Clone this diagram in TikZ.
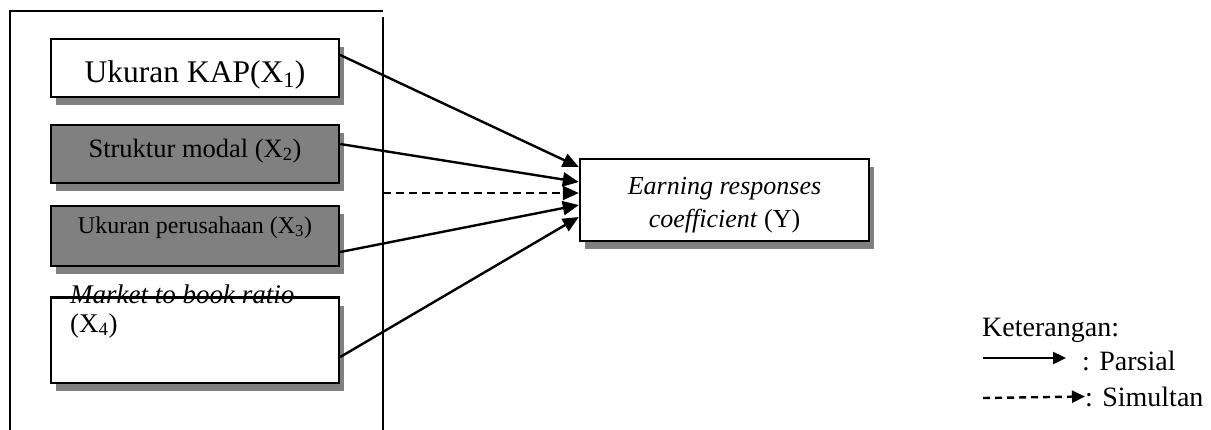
\documentclass[tikz,border=0pt]{standalone}
\usepackage{fontspec}
\setmainfont{Liberation Serif}
\usetikzlibrary{arrows.meta,shadows}
\definecolor{shgray}{RGB}{128,128,128}
\definecolor{boxgray}{RGB}{128,128,128}
\begin{document}
\begin{tikzpicture}[x=1pt,y=-1pt,
  box/.style={draw=black,line width=2.4pt,minimum width=288pt,inner sep=0pt,fill=white,
    drop shadow={shadow xshift=5pt,shadow yshift=-7.5pt,fill=shgray,opacity=1}},
  darkbox/.style={box,fill=boxgray},
  frameline/.style={line width=1.6pt},
  arr/.style={line width=2.4pt,-{Triangle[length=16pt,width=14pt]}},
  darr/.style={arr,dash pattern=on 8pt off 5pt},
  legarr/.style={line width=2.4pt,-{Triangle[length=13pt,width=12pt]}},
  legdarr/.style={legarr,dash pattern=on 7pt off 5pt},
  txt/.style={inner sep=0pt}
]
\useasboundingbox (0,0) rectangle (1211,429);
% frame
\coordinate (ftl) at (10,10.7);
\coordinate (ftr) at (383,10.7);
\coordinate (fbl) at (10,432);
\coordinate (frt) at (383,17);
\coordinate (frb) at (383,432);
\draw[frameline] (fbl) -- (ftl) -- (ftr);
\draw[frameline] (frt) -- (frb);
% boxes
\node[box,minimum height=58pt,text height=34pt,text depth=6pt,
      font=\fontsize{31.5}{36}\selectfont] (b1) at (195,68) {Ukuran KAP(X\textsubscript{1})};
\node[darkbox,minimum height=58pt,text height=18pt,text depth=12pt,
      font=\fontsize{26.5}{30}\selectfont] (b2) at (195,154) {Struktur modal (X\textsubscript{2})};
\node[darkbox,minimum height=60pt,text height=17pt,text depth=23pt,
      font=\fontsize{24}{28}\selectfont] (b3) at (195,236) {Ukuran perusahaan (X\textsubscript{3})};
\node[box,minimum height=85pt] (b4) at (195,340.5) {};
\node[txt,anchor=base west,font=\fontsize{27}{30}\selectfont\itshape] (b4t) at (70,303) {Market to book ratio};
\node[txt,anchor=base west,font=\fontsize{27}{30}\selectfont] (b4x) at (70,332) {(X\textsubscript{4})};
\draw[line width=2.4pt] (b4.north west) -- (b4.north east);
% dependent
\node[box,minimum width=289pt,minimum height=82pt,align=center,text height=60pt,text depth=6pt,
      font=\fontsize{26}{33}\selectfont] (y) at (724.5,200)
  {\textit{Earning responses}\\\textit{coefficient} (Y)};
% arrows
\coordinate (ds) at (383,193);
\draw[arr] ([yshift=13pt]b1.east) -- ([yshift=33pt]y.west);
\draw[arr] ([yshift=10pt]b2.east) -- ([yshift=18pt]y.west);
\draw[darr] (ds) -- ([yshift=7pt]y.west);
\draw[arr] ([yshift=-16pt]b3.east) -- ([yshift=-5pt]y.west);
\draw[arr] ([yshift=-16.5pt]b4.east) -- ([yshift=-17pt]y.west);
% legend
\node[txt,anchor=base west,font=\fontsize{28}{32}\selectfont] (ket) at (982,336) {Keterangan:};
\node[txt,anchor=base west,font=\fontsize{28}{32}\selectfont] (par) at (1082,370) {: Parsial};
\node[txt,anchor=base west,font=\fontsize{28}{32}\selectfont] (sim) at (1085,406) {: Simultan};
\coordinate (l1s) at (983,358);
\coordinate (l1e) at (1066,358);
\coordinate (l2s) at (983,398);
\draw[legarr] (l1s) -- (l1e);
\draw[legdarr] (l2s) -- (sim.west);
\end{tikzpicture}
\end{document}
